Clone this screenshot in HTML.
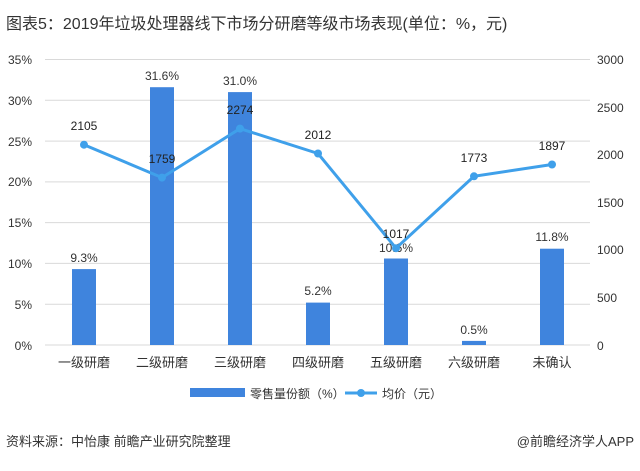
<!DOCTYPE html>
<html><head><meta charset="utf-8"><style>
body{margin:0;background:#fff;}
svg text{font-family:"Liberation Sans","Noto Sans CJK SC",sans-serif;}
</style></head><body>
<svg width="640" height="466" xmlns="http://www.w3.org/2000/svg">
<text x="6" y="29" font-size="16" fill="#333">图表5：2019年垃圾处理器线下市场分研磨等级市场表现(单位：%，元)</text>
<g stroke="#d9d9d9" stroke-width="1">
<line x1="45" x2="590" y1="59.5" y2="59.5"/><line x1="45" x2="590" y1="100.3" y2="100.3"/>
<line x1="45" x2="590" y1="141.1" y2="141.1"/><line x1="45" x2="590" y1="181.9" y2="181.9"/>
<line x1="45" x2="590" y1="222.6" y2="222.6"/><line x1="45" x2="590" y1="263.4" y2="263.4"/>
<line x1="45" x2="590" y1="304.2" y2="304.2"/><line x1="45" x2="590" y1="345" y2="345"/>
</g>
<g font-size="12" fill="#333" text-anchor="end">
<text x="32" y="64">35%</text><text x="32" y="105">30%</text><text x="32" y="146">25%</text>
<text x="32" y="186">20%</text><text x="32" y="227">15%</text><text x="32" y="268">10%</text>
<text x="32" y="309">5%</text><text x="32" y="350">0%</text>
</g>
<g font-size="12" fill="#333" text-anchor="start">
<text x="597" y="64">3000</text><text x="597" y="112">2500</text><text x="597" y="159">2000</text>
<text x="597" y="207">1500</text><text x="597" y="254">1000</text><text x="597" y="302">500</text>
<text x="597" y="350">0</text>
</g>
<g fill="#3f84dd">
<rect x="72" y="269.1" width="24" height="75.9"/>
<rect x="150" y="87.2" width="24" height="257.8"/>
<rect x="228" y="92.1" width="24" height="252.9"/>
<rect x="306" y="302.6" width="24" height="42.4"/>
<rect x="384" y="258.5" width="24" height="86.5"/>
<rect x="462" y="340.9" width="24" height="4.1"/>
<rect x="540" y="248.7" width="24" height="96.3"/>
</g>
<g font-size="12" fill="#333" text-anchor="middle">
<text x="84" y="262">9.3%</text><text x="162" y="80">31.6%</text><text x="240" y="85">31.0%</text>
<text x="318" y="295">5.2%</text><text x="396" y="252">10.6%</text><text x="474" y="334">0.5%</text>
<text x="552" y="241">11.8%</text>
</g>
<polyline fill="none" stroke="#3fa0ea" stroke-width="3" points="84,144.7 162,177.6 240,128.6 318,153.5 396,248.2 474,176.3 552,164.5"/>
<g fill="#3fa0ea">
<circle cx="84" cy="144.7" r="4"/><circle cx="162" cy="177.6" r="4"/><circle cx="240" cy="128.6" r="4"/>
<circle cx="318" cy="153.5" r="4"/><circle cx="396" cy="248.2" r="4"/><circle cx="474" cy="176.3" r="4"/>
<circle cx="552" cy="164.5" r="4"/>
</g>
<g font-size="12" fill="#222" text-anchor="middle">
<text x="84" y="130">2105</text><text x="162" y="163">1759</text><text x="240" y="114">2274</text>
<text x="318" y="139">2012</text><text x="396" y="238">1017</text><text x="474" y="162">1773</text>
<text x="552" y="150">1897</text>
</g>
<g font-size="13" fill="#333" text-anchor="middle">
<text x="84" y="367">一级研磨</text><text x="162" y="367">二级研磨</text><text x="240" y="367">三级研磨</text>
<text x="318" y="367">四级研磨</text><text x="396" y="367">五级研磨</text><text x="474" y="367">六级研磨</text>
<text x="552" y="367">未确认</text>
</g>
<rect x="190" y="388" width="55" height="9" fill="#3f84dd"/>
<text x="250" y="398" font-size="12" fill="#333">零售量份额（%）</text>
<line x1="345" x2="377" y1="393" y2="393" stroke="#3fa0ea" stroke-width="3"/>
<circle cx="361" cy="393" r="4" fill="#3fa0ea"/>
<text x="382" y="398" font-size="12" fill="#333">均价（元）</text>
<text x="6" y="446" font-size="13" fill="#333">资料来源：中怡康 前瞻产业研究院整理</text>
<text x="634" y="446" font-size="13" fill="#333" text-anchor="end">@前瞻经济学人APP</text>
</svg>
</body></html>
